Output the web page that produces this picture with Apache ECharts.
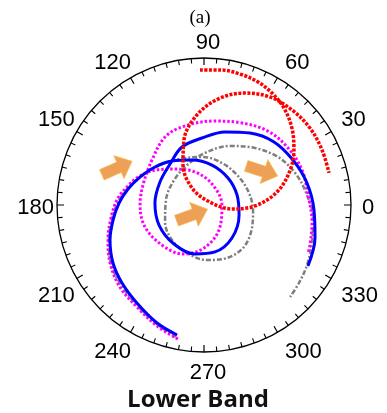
<!DOCTYPE html>
<html>
<head>
<meta charset="utf-8">
<script src="https://cdn.jsdelivr.net/npm/echarts@6/dist/echarts.min.js"></script>
<style>html,body{margin:0;padding:0;background:#fff;}#c{width:387px;height:413px;}</style>
</head>
<body>
<div id="c"></div>
<script>
// angle tick labels (degrees)
const angleTicks = [0, 30, 60, 90, 120, 150, 180, 210, 240, 270, 300, 330];

// red dotted trajectory: radius (normalised), angle (deg)
const redR = [0.919,0.925,0.924,0.914,0.891,0.855,0.795,0.717,0.618,0.497,0.347,0.192,0.038,0.142,0.307,0.463,0.608,0.727,0.811,0.861,0.881,0.891,0.886,0.878];
const redA = [91.7,83.2,74.6,66.3,58.7,50.5,41.2,31.4,20.6,9.5,358.9,351.9,45,125.2,117.7,107.1,95.1,82.5,69.9,58.6,47.2,36.0,25.0,14.4];

// blue solid trajectory
const blueR = [0.903,0.864,0.808,0.770,0.734,0.682,0.627,0.578,0.528,0.475,0.422,0.370,0.317,0.277,0.246,0.235,0.248,0.294,0.328,0.339,0.335,0.335,0.334,0.338,0.362,0.422,0.456,0.517,0.581,0.641,0.678,0.716,0.749,0.788,0.820];
const blueA = [258.3,248.3,235.6,223.6,212.5,200.4,189.4,178.7,168.1,156.4,142.2,126.0,104.9,78.7,48.4,16.9,344.1,310.3,283.2,259.6,232.4,204.0,177.7,152.4,129.7,110.8,91.7,74.0,57.4,42.0,26.8,12.1,357.4,343.4,329.6];

// magenta dotted trajectory
const magR = [0.929,0.883,0.830,0.799,0.751,0.695,0.639,0.593,0.538,0.478,0.404,0.314,0.233,0.153,0.122,0.198,0.293,0.363,0.395,0.428,0.435,0.437,0.468,0.536,0.555,0.576,0.615,0.665,0.691,0.708,0.711,0.744,0.771,0.779];
const magA = [259.0,248.8,236.7,224.3,211.7,200.0,188.0,176.7,166.8,155.6,143.9,128.9,105.3,69.1,0,301.0,270,246.8,223.6,200.4,180,161.8,139.1,118.8,101.3,82.5,65.1,49.1,34.2,19.7,5.5,351.1,339.3,335.2];

// gray dash-dot trajectory
const grayR = [0.918,0.870,0.819,0.784,0.746,0.689,0.633,0.585,0.530,0.475,0.410,0.353,0.327,0.311,0.304,0.317,0.337,0.369,0.395,0.393,0.375,0.346,0.323,0.289,0.261,0.263,0.292,0.354,0.439,0.520,0.600,0.660,0.704,0.747,0.777,0.811,0.836,0.857];
const grayA = [258.0,248.4,236.2,223.9,211.9,200.2,188.7,178.0,167.4,156.4,139.7,117.6,91.2,66.8,40.5,14.9,351.9,330.1,312.2,293.5,273.1,250.5,227.6,203.6,172.5,143.4,114.8,88.9,66.2,48.2,33.0,18.6,5.5,353.2,341.1,329.8,320.6,313.1];

// orange arrows (position radius, angle, pointing direction)
const arrowR = [0.643, 0.106, 0.457];
const arrowA = [157.0, 219.8, 30.4];
const arrowDir = [24, 20, -18];

const zip = (r, a) => r.map((v, i) => [v, a[i]]);

const chart = echarts.init(document.getElementById('c'), null, {renderer: 'canvas'});
const lineBase = {type: 'line', coordinateSystem: 'polar', polarIndex: 0, showSymbol: false, symbol: 'none', smooth: 0.35, animation: false, silent: true};

chart.setOption({
  animation: false,
  polar: [
    {center: [204, 205], radius: 147},
    {center: [208, 207.5], radius: 147}
  ],
  angleAxis: [
    {
      polarIndex: 0, type: 'value', min: 0, max: 360, interval: 30, startAngle: 0, clockwise: false,
      axisLine: {lineStyle: {color: '#000', width: 1.3}},
      axisTick: {show: true, inside: true, length: 7, lineStyle: {color: '#000', width: 1.2}},
      minorTick: {show: true, splitNumber: 6, length: 5, lineStyle: {color: '#000', width: 1.1}},
      axisLabel: {show: false},
      splitLine: {show: false}
    },
    {
      polarIndex: 1, type: 'value', min: 0, max: 360, interval: 30, startAngle: 0, clockwise: false,
      axisLine: {show: false}, axisTick: {show: false}, splitLine: {show: false},
      axisLabel: {show: true, margin: 7, fontSize: 22, fontFamily: '"Liberation Sans", Arial, sans-serif', color: '#000',
        formatter: v => (angleTicks.indexOf(v) >= 0 ? String(v) : '')}
    }
  ],
  radiusAxis: [
    {polarIndex: 0, min: 0, max: 1, show: false, axisLine: {show: false}, axisTick: {show: false}, axisLabel: {show: false}, splitLine: {show: false}},
    {polarIndex: 1, min: 0, max: 1, show: false, axisLine: {show: false}, axisTick: {show: false}, axisLabel: {show: false}, splitLine: {show: false}}
  ],
  graphic: [
    {type: 'text', x: 200, y: 18, style: {text: '(a)', font: '19px "Liberation Serif", "Times New Roman", serif', fill: '#000', align: 'center', verticalAlign: 'middle'}},
    {type: 'text', x: 198, y: 400, style: {text: 'Lower Band', font: 'bold 24px "Open Sans", sans-serif', fill: '#111', align: 'center', verticalAlign: 'middle'}}
  ],
  series: [
    Object.assign({}, lineBase, {name: 'gray', data: zip(grayR, grayA), lineStyle: {color: '#7f7f7f', width: 2.5, type: [5, 2, 2, 2]}}),
    Object.assign({}, lineBase, {name: 'magenta', data: zip(magR, magA), lineStyle: {color: '#ff00ff', width: 3, type: [2.5, 2]}}),
    Object.assign({}, lineBase, {name: 'blue', data: zip(blueR, blueA), lineStyle: {color: '#0000ff', width: 3, type: 'solid'}}),
    Object.assign({}, lineBase, {name: 'red', data: zip(redR, redA), lineStyle: {color: '#ff0000', width: 3.5, type: [3, 1.5]}}),
    {
      type: 'scatter', coordinateSystem: 'polar', polarIndex: 0, animation: false, silent: true,
      symbol: 'path://M0,6 L17,6 L17,0 L30,11 L17,22 L17,16 L0,16 Z',
      symbolSize: [33, 25],
      itemStyle: {color: '#ea8a2c', borderColor: '#f6b94a', borderWidth: 0.8},
      data: arrowR.map((r, i) => ({value: [r, arrowA[i]], symbolRotate: arrowDir[i]}))
    }
  ]
});
</script>
</body>
</html>
